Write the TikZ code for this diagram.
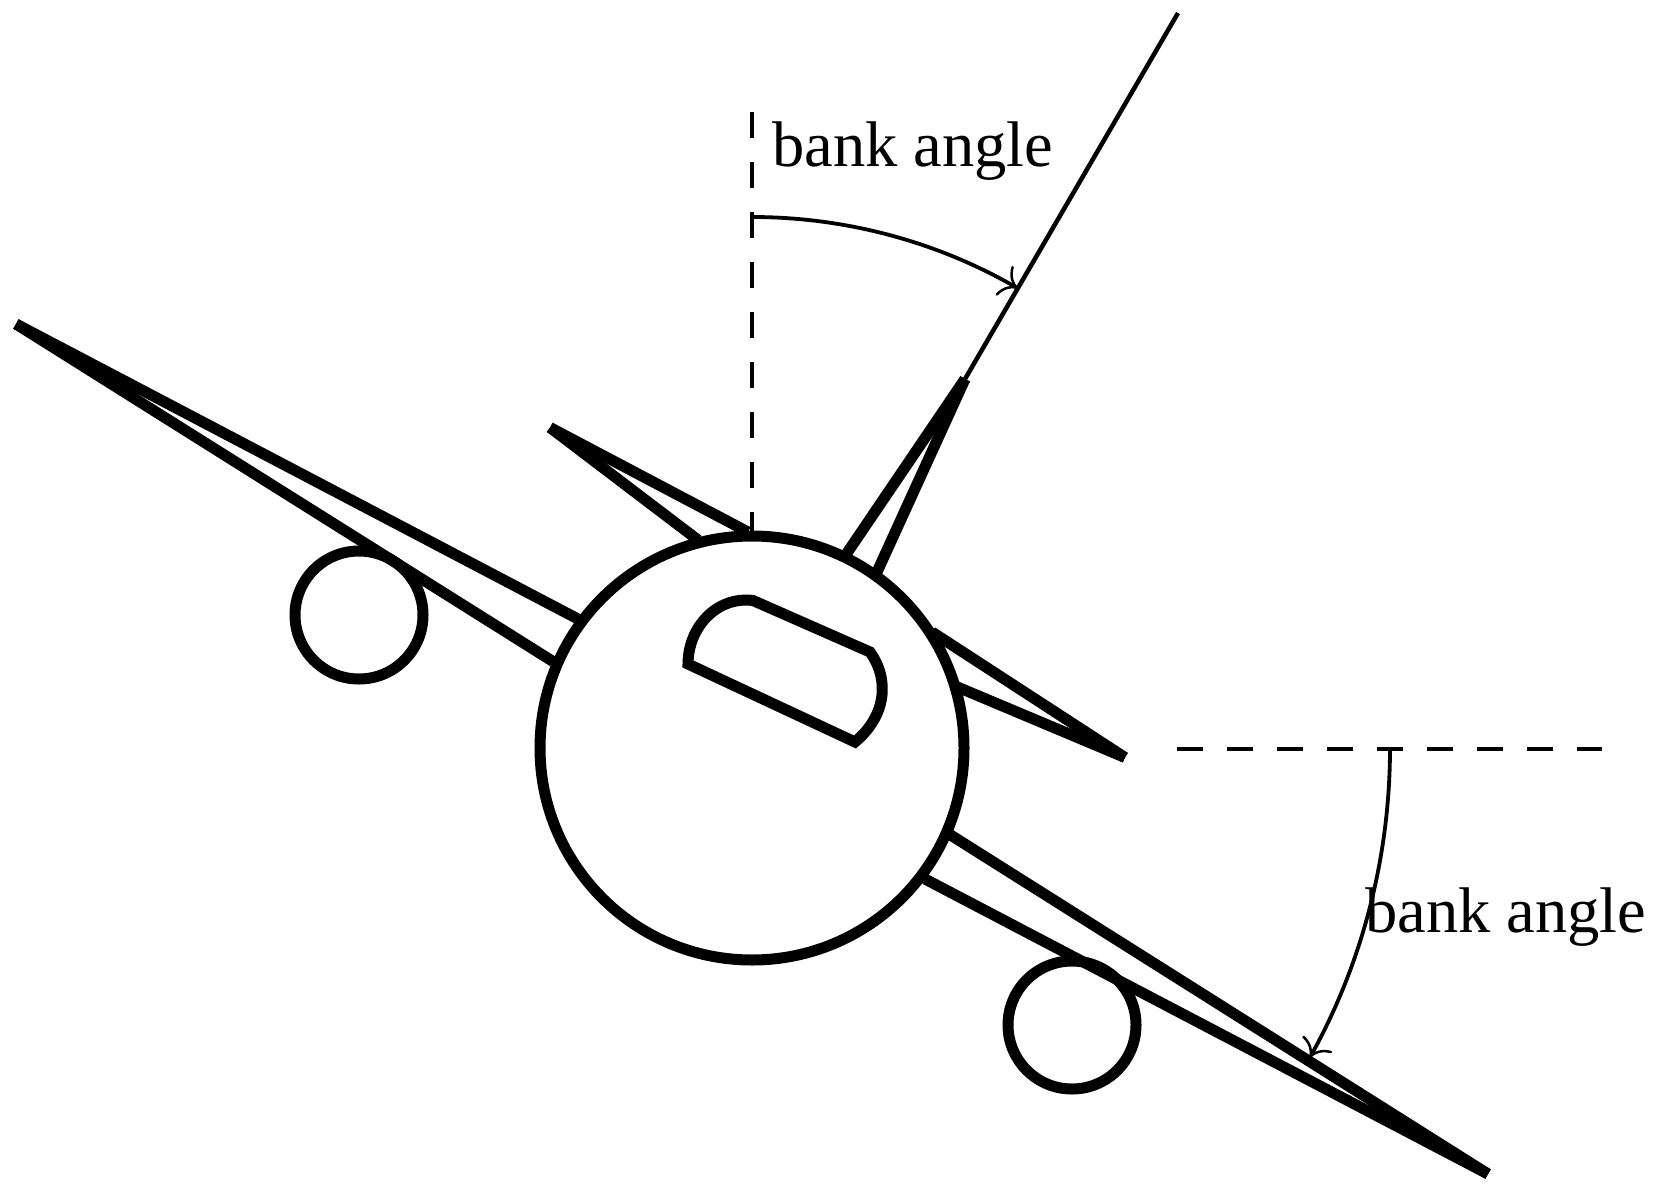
\documentclass[tikz,border=0pt]{standalone}
\usepackage{fontspec}
\setmainfont{Liberation Serif}
\usetikzlibrary{arrows.meta}
\tikzset{
  thick body/.style={draw=black,line width=11pt,fill=none},
  wing/.style={draw=black,line width=11pt},
  refdash/.style={draw=black,line width=4.5pt,dash pattern=on 26pt off 24pt},
  thinline/.style={draw=black,line width=4.5pt},
  anglearc/.style={draw=black,line width=3.8pt,-{Computer Modern Rightarrow[length=16pt,width=34pt,line width=2.5pt]}},
  label/.style={anchor=base west,inner sep=0pt,font=\fontsize{64.5}{70}\selectfont}
}
\begin{document}
\begin{tikzpicture}[x=1pt,y=-1pt]
\useasboundingbox (0,0) rectangle (1656,1196);
% key points
\coordinate (c) at (752,748);
\coordinate (ltip) at (16,324);
\coordinate (lu) at (578,619);
\coordinate (ll) at (553,661.5);
\coordinate (rtip) at (1488,1174);
\coordinate (ru) at (949,834);
\coordinate (rl) at (925,879);
\coordinate (tltip) at (550,427.5);
\coordinate (tlu) at (748,532);
\coordinate (tll) at (698,540);
\coordinate (trtip) at (1125,757.5);
\coordinate (tru) at (932,632);
\coordinate (trl) at (955,686);
\coordinate (fintip) at (965,379);
\coordinate (finl) at (847,553);
\coordinate (finr) at (877,572);
\coordinate (fintop) at (1178,13);
% fuselage and engines
\node[circle,thick body,minimum size=424pt,inner sep=0pt] (fuselage) at (c) {};
\node[circle,thick body,minimum size=128pt,inner sep=0pt] (engl) at (359,615) {};
\node[circle,thick body,minimum size=128pt,inner sep=0pt] (engr) at (1072,1025) {};
% wings
\draw[wing] (ltip) -- (lu);
\draw[wing] (ltip) -- (ll);
\draw[wing] (rtip) -- (ru);
\draw[wing] (rtip) -- (rl);
% tailplanes and fin
\draw[wing] (tltip) -- (tlu);
\draw[wing] (tltip) -- (tll);
\draw[wing] (trtip) -- (tru);
\draw[wing] (trtip) -- (trl);
\draw[wing] (fintip) -- (finl);
\draw[wing] (fintip) -- (finr);
\draw[thinline] (fintip) -- (fintop);
% cockpit window
\draw[thick body,line join=miter] (688,664) .. controls (688,628) and (716,596) .. (753,600.5)
  -- (870,652) .. controls (890,680) and (886,716) .. (855,742) -- cycle;
% references
\coordinate (vtop) at (752,112);
\coordinate (vbot) at (752,531);
\coordinate (hleft) at (1177,749);
\coordinate (hright) at (1602,749);
\draw[refdash] (vtop) -- (vbot);
\draw[refdash] (hleft) -- (hright);
% angle arcs
\draw[anglearc] (752,217) arc[start angle=-90,end angle=-60,radius=531];
\draw[anglearc] (1390,748) arc[start angle=0,end angle=29,radius=638];
% labels
\node[label] (l1) at (772,166) {bank angle};
\node[label] (l2) at (1365,932) {bank angle};
\end{tikzpicture}
\end{document}
